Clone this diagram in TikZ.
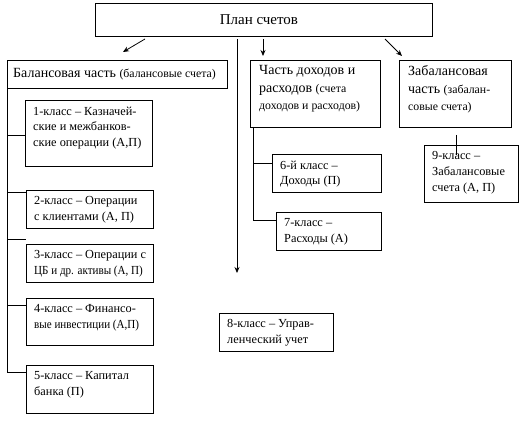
\documentclass[tikz,border=0pt]{standalone}
\usepackage{fontspec}
\setmainfont{Liberation Serif}
\usetikzlibrary{arrows.meta,calc}
\newcommand\fsmain{\fontsize{12.3}{15.7}\selectfont}
\newcommand\fshead{\fontsize{14}{17.3}\selectfont}
\newcommand\fssmall{\fontsize{11.8}{17.3}\selectfont}
\newcommand\fstop{\fontsize{15}{18}\selectfont}
\newcommand\sqz[1]{\scalebox{0.9}[1]{#1}}
\tikzset{
  box/.style={draw, line width=0.8pt, inner sep=0pt, anchor=north west},
  txt/.style={anchor=north west, inner sep=0pt, align=left, font=\fsmain},
  htxt/.style={anchor=north west, inner sep=0pt, align=left, font=\fshead},
  ln/.style={line width=0.8pt},
  arr/.style={line width=0.8pt, -{Stealth[length=6pt,width=5pt]}}
}
\newcommand\drawbx[6]{%
  \node[box, minimum width=#4pt, minimum height=#5pt] (#1) at (#2,#3) {};
  \node[txt] (#1t) at ([xshift=8pt,yshift=-6.5pt]#1.north west) {#6};
}
\newcommand\drawhd[6]{%
  \node[box, minimum width=#4pt, minimum height=#5pt] (#1) at (#2,#3) {};
  \node[htxt] (#1t) at ([xshift=9pt,yshift=-5.5pt]#1.north west) {#6};
}
\begin{document}
\begin{tikzpicture}[x=1pt,y=-1pt]
\useasboundingbox[fill=white] (0,0) rectangle (530,425);
% top
\node[box, minimum width=337pt, minimum height=33pt] (top) at (95,3) {};
\node[font=\fstop, inner sep=0pt] (topt) at ([xshift=-5pt]top.center) {План счетов};
% balance
\node[box, minimum width=220pt, minimum height=28pt] (bal) at (7,60) {};
\node[anchor=west, inner sep=0pt, font=\fshead] (balt) at ([xshift=6pt,yshift=0.5pt]bal.west) {Балансовая часть {\fssmall (балансовые счета)}};
\drawhd{ch}{250}{60}{130}{67}{Часть доходов и\\ расходов {\fssmall (счета}\\ {\fssmall доходов и расходов)}}
\drawhd{zab}{399}{60}{112}{67}{Забалансовая\\ часть {\fssmall (забалан-}\\ {\fssmall совые счета)}}
\drawbx{b1}{25}{100}{127}{66}{1-класс – Казначей-\\ ские и межбанков-\\ ские операции (А,П)}
\drawbx{b2}{26}{190}{127}{38}{2-класс – Операции\\ с клиентами (А, П)}
\drawbx{b3}{26}{244}{127}{38}{3-класс – Операции с\\ \sqz{ЦБ и др. активы (А, П)}}
\drawbx{b4}{26}{298}{127}{47}{4-класс – Финансо-\\ \sqz{вые инвестиции (А,П)}}
\drawbx{b5}{26}{365}{127}{48}{5-класс – Капитал\\ банка (П)}
\drawbx{b6}{272}{154}{109}{38}{6-й класс –\\ Доходы (П)}
\drawbx{b7}{276}{212}{105}{38}{7-класс –\\ Расходы (А)}
\drawbx{b8}{219}{313}{114}{38}{8-класс – Управ-\\ ленческий учет}
\drawbx{b9}{424}{145}{94}{57}{9-класс –\\ Забалансовые\\ счета (А, П)}
% arrows from top
\coordinate (a1s) at (145,39); \coordinate (a1e) at (123,52);
\draw[arr] (a1s) -- (a1e);
\coordinate (a2s) at (237,39); \coordinate (a2e) at (237,273);
\draw[arr] (a2s) -- (a2e);
\coordinate (a3s) at (263,39); \coordinate (a3e) at (263,56);
\draw[arr] (a3s) -- (a3e);
\coordinate (a4s) at (385,39); \coordinate (a4e) at (402,56);
\draw[arr] (a4s) -- (a4e);
% zab to b9
\coordinate (z1) at (456,135); \coordinate (z2) at (456,155);
\draw[ln] (z1) -- (z2);
% left spine
\coordinate (lsp) at (7,372);
\draw[ln] (bal.south west) -- (lsp) -- (b5.west |- lsp);
\draw[ln] (bal.south west |- 0,135) -- (b1.west |- 0,135);
\draw[ln] (bal.south west |- 0,192) -- (b2.west |- 0,192);
\coordinate (stub) at (26,239);
\draw[ln] (bal.south west |- stub) -- (stub);
\draw[ln] (bal.south west |- 0,305) -- (b4.west |- 0,305);
% right spine
\coordinate (rs0) at (253,127); \coordinate (rs1) at (253,220);
\draw[ln] (rs0) -- (rs1) -- (b7.west |- rs1);
\draw[ln] (rs0 |- 0,163) -- (b6.west |- 0,163);
\end{tikzpicture}
\end{document}
